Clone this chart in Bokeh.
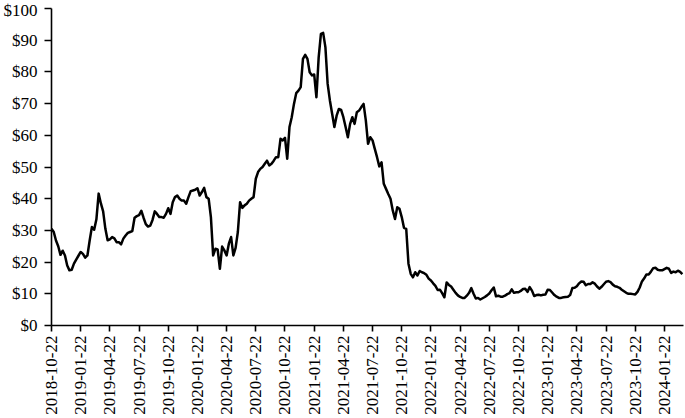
from bokeh.plotting import figure
from bokeh.models import Range1d, FixedTicker, PrintfTickFormatter, ColumnDataSource
from bokeh.embed import file_html
from bokeh.resources import INLINE
import math

# Weekly closing price (USD), starting week of 2018-10-22
prices = [
    30.5, 29.5, 26.8, 25.0, 22.3, 23.6, 22.1, 18.9, 17.4, 17.6,
    19.5, 20.8, 22.0, 23.2, 22.6, 21.4, 22.1, 26.8, 31.1, 30.2,
    33.5, 41.6, 38.5, 36.0, 30.5, 26.9, 27.2, 27.9, 27.5, 26.3,
    26.3, 25.6, 27.4, 28.4, 29.2, 29.5, 29.8, 34.0, 34.5, 34.8,
    36.2, 34.0, 32.0, 31.2, 31.5, 33.3, 36.0, 35.2, 34.2, 34.2,
    34.0, 35.2, 37.0, 35.2, 38.9, 40.5, 41.0, 40.0, 39.4, 39.4,
    38.4, 40.5, 42.4, 42.6, 42.8, 43.3, 41.0, 42.1, 43.4, 40.5,
    40.0, 34.2, 22.1, 24.2, 24.0, 17.9, 24.9, 23.7, 22.1, 25.8,
    27.9, 22.1, 24.5, 29.5, 38.9, 37.1, 37.9, 38.4, 39.4, 40.0,
    40.5, 46.3, 48.4, 49.4, 50.0, 51.0, 52.0, 50.5, 51.0, 52.0,
    53.1, 53.1, 58.9, 58.4, 59.2, 52.6, 62.6, 65.7, 69.9, 73.3,
    74.1, 75.2, 84.1, 85.4, 84.1, 79.9, 78.9, 79.2, 72.0, 84.6,
    92.0, 92.3, 87.8, 76.2, 71.0, 66.8, 62.6, 66.2, 68.3, 68.0,
    65.7, 62.6, 59.4, 63.6, 65.7, 63.6, 67.3, 67.8, 68.9, 69.9,
    64.7, 57.3, 59.4, 58.4, 55.7, 53.1, 50.2, 51.5, 44.7, 43.1,
    41.5, 40.0, 36.3, 33.6, 37.3, 36.8, 34.2, 30.8, 30.5, 19.5,
    16.3, 15.2, 16.8, 15.8, 17.2, 16.8, 16.5, 16.0, 14.8, 14.2,
    13.3, 12.5, 11.2, 11.3, 10.2, 8.9, 13.6, 12.8, 12.3, 11.3,
    10.3, 9.5, 9.0, 8.7, 8.7, 9.4, 10.3, 11.8, 10.0, 8.5,
    8.7, 8.2, 8.6, 9.0, 9.5, 10.1, 11.1, 12.0, 9.2, 9.4,
    9.1, 9.1, 9.4, 9.9, 10.2, 11.4, 10.3, 10.5, 10.5, 10.9,
    11.5, 11.6, 10.6, 12.1, 11.0, 9.3, 9.6, 9.7, 9.5, 9.7,
    9.8, 11.3, 11.2, 10.4, 9.6, 9.1, 8.7, 8.7, 8.9, 9.0,
    9.1, 9.6, 11.8, 11.9, 12.4, 13.3, 13.9, 13.8, 12.7, 13.1,
    13.1, 13.6, 13.2, 12.3, 11.6, 12.2, 13.0, 13.8, 14.0, 13.7,
    12.9, 12.4, 12.2, 11.9, 11.3, 10.8, 10.3, 10.0, 10.0, 9.9,
    9.8, 10.6, 12.0, 13.9, 14.9, 16.1, 16.1, 17.0, 18.1, 18.2,
    17.6, 17.4, 17.4, 17.8, 18.2, 17.9, 16.6, 17.0, 16.8, 17.3,
    16.9, 16.2,
]

tick_labels = [
    "2018-10-22", "2019-01-22", "2019-04-22", "2019-07-22", "2019-10-22",
    "2020-01-22", "2020-04-22", "2020-07-22", "2020-10-22", "2021-01-22",
    "2021-04-22", "2021-07-22", "2021-10-22", "2022-01-22", "2022-04-22",
    "2022-07-22", "2022-10-22", "2023-01-22", "2023-04-22", "2023-07-22",
    "2023-10-22", "2024-01-22",
]
weeks_per_label = 13
y_ticks = list(range(0, 101, 10))

weeks = list(range(len(prices)))
tick_pos = [i * weeks_per_label for i in range(len(tick_labels))]

src = ColumnDataSource(dict(week=weeks, price=prices))

FONT = "Liberation Serif"

p = figure(width=685, height=418, output_backend="svg", toolbar_location=None,
           x_range=Range1d(0, len(prices) - 0.5), y_range=Range1d(0, 100),
           min_border_left=50, min_border_right=2, min_border_top=8,
           min_border_bottom=93)
p.outline_line_color = None
p.grid.visible = False
p.background_fill_color = "white"
p.border_fill_color = "white"

p.line("week", "price", source=src, line_color="black", line_width=2.5,
       line_join="round")

xa = p.xaxis[0]
xa.ticker = FixedTicker(ticks=tick_pos)
xa.major_label_overrides = {t: lab for t, lab in zip(tick_pos, tick_labels)}
xa.major_label_orientation = math.pi / 2

ya = p.yaxis[0]
ya.ticker = FixedTicker(ticks=y_ticks)
ya.formatter = PrintfTickFormatter(format="$%d")

for ax in (xa, ya):
    ax.axis_line_color = "black"
    ax.axis_line_width = 1.6
    ax.major_tick_line_color = "black"
    ax.major_tick_line_width = 1.6
    ax.major_tick_in = 0
    ax.minor_tick_line_color = None
    ax.major_label_text_font = FONT
    ax.major_label_text_font_size = "17px"
    ax.major_label_text_color = "black"

xa.major_tick_out = 6
xa.major_label_standoff = 4
ya.major_tick_out = 7
ya.major_label_standoff = 7

open("out.html", "w").write(file_html(p, INLINE))
